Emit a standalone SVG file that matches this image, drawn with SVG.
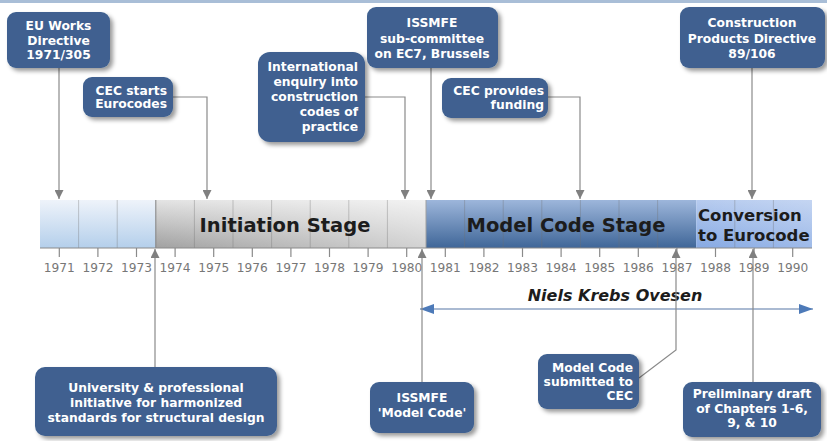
<svg xmlns="http://www.w3.org/2000/svg" width="827" height="441" viewBox="0 0 827 441">
  <defs>
    <style>
      .box { fill: #3f6190; }
      .bt { font-family: "DejaVu Sans", Verdana, sans-serif; font-weight: bold; font-size: 12.3px; fill: #ffffff; }
      .mid { text-anchor: middle; }
      .end { text-anchor: end; }
      .conn { fill: none; stroke: #8a8a8a; stroke-width: 1.2; marker-end: url(#arr); }
      .yr { font-family: "DejaVu Sans", Verdana, sans-serif; font-size: 12.2px; fill: #777777; text-anchor: middle; }
      .tick { stroke: #8a8a8a; stroke-width: 1.2; }
      .div { stroke: #707070; stroke-opacity: 0.35; stroke-width: 1; }
      .stage { font-family: "DejaVu Sans", Verdana, sans-serif; font-weight: bold; fill: #1c1c1c; }
    </style>
    <filter id="shadow" x="-10%" y="-10%" width="130%" height="140%">
      <feDropShadow dx="3" dy="3" stdDeviation="2.2" flood-color="#000000" flood-opacity="0.4"/>
    </filter>
    <marker id="arr" viewBox="0 0 10 10" refX="10" refY="5" markerWidth="9" markerHeight="9" markerUnits="userSpaceOnUse" orient="auto">
      <path d="M0,0 L10,5 L0,10 z" fill="#808080"/>
    </marker>
    <marker id="barr" viewBox="0 0 14 10" refX="14" refY="5" markerWidth="14" markerHeight="10" markerUnits="userSpaceOnUse" orient="auto-start-reverse">
      <path d="M0,0 L14,5 L0,10 z" fill="#4d7ab8"/>
    </marker>
    <linearGradient id="gLight" x1="0" y1="0" x2="0" y2="1">
      <stop offset="0" stop-color="#eef3fa"/>
      <stop offset="1" stop-color="#b4cfeb"/>
    </linearGradient>
    <linearGradient id="gGray" x1="0" y1="0" x2="0" y2="1">
      <stop offset="0" stop-color="#e2e2e2"/>
      <stop offset="1" stop-color="#9c9c9c"/>
    </linearGradient>
    <linearGradient id="gGrayH" x1="0" y1="0" x2="1" y2="0">
      <stop offset="0" stop-color="#ffffff" stop-opacity="0.05"/>
      <stop offset="1" stop-color="#ffffff" stop-opacity="0.55"/>
    </linearGradient>
    <linearGradient id="gModel" x1="0" y1="0" x2="0" y2="1">
      <stop offset="0" stop-color="#9db6db"/>
      <stop offset="1" stop-color="#3f6698"/>
    </linearGradient>
    <linearGradient id="gConv" x1="0" y1="0" x2="0" y2="1">
      <stop offset="0" stop-color="#b6cbef"/>
      <stop offset="1" stop-color="#86a9e3"/>
    </linearGradient>
    <linearGradient id="gConvH" x1="0" y1="0" x2="1" y2="0">
      <stop offset="0" stop-color="#ffffff" stop-opacity="0"/>
      <stop offset="1" stop-color="#ffffff" stop-opacity="0.2"/>
    </linearGradient>
  </defs>

  <rect x="0" y="0" width="827" height="441" fill="#ffffff"/>
  <rect x="0" y="0" width="827" height="3" fill="#a9bed7"/>

  <!-- timeline bar -->
  <g id="timeline">
    <rect x="40" y="200" width="115.8" height="48" fill="url(#gLight)"/>
    <rect x="155.8" y="200" width="270.2" height="48" fill="url(#gGray)"/>
    <rect x="155.8" y="200" width="270.2" height="48" fill="url(#gGrayH)"/>
    <rect x="426" y="200" width="270.2" height="48" fill="url(#gModel)"/>
    <rect x="696.2" y="200" width="115.8" height="48" fill="url(#gConv)"/>
    <rect x="696.2" y="200" width="115.8" height="48" fill="url(#gConvH)"/>
    <g class="div">
      <line x1="78.6" y1="200" x2="78.6" y2="248"/>
      <line x1="117.2" y1="200" x2="117.2" y2="248"/>
      <line x1="194.4" y1="200" x2="194.4" y2="248"/>
      <line x1="233" y1="200" x2="233" y2="248"/>
      <line x1="271.6" y1="200" x2="271.6" y2="248"/>
      <line x1="310.2" y1="200" x2="310.2" y2="248"/>
      <line x1="348.8" y1="200" x2="348.8" y2="248"/>
      <line x1="387.4" y1="200" x2="387.4" y2="248"/>
      <line x1="464.6" y1="200" x2="464.6" y2="248"/>
      <line x1="503.2" y1="200" x2="503.2" y2="248"/>
      <line x1="541.8" y1="200" x2="541.8" y2="248"/>
      <line x1="580.4" y1="200" x2="580.4" y2="248"/>
      <line x1="619" y1="200" x2="619" y2="248"/>
      <line x1="657.6" y1="200" x2="657.6" y2="248"/>
      <line x1="734.8" y1="200" x2="734.8" y2="248"/>
      <line x1="773.4" y1="200" x2="773.4" y2="248"/>
    </g>
    <line x1="155.8" y1="200" x2="155.8" y2="248" stroke="#808080" stroke-width="1"/>
    <line x1="426" y1="200" x2="426" y2="248" stroke="#a0a0a0" stroke-width="1"/>
    <line x1="40" y1="248" x2="812" y2="248" stroke="#8a8a8a" stroke-width="1"/>

    <g class="tick">
      <line x1="59.3" y1="248" x2="59.3" y2="257"/>
      <line x1="97.9" y1="248" x2="97.9" y2="257"/>
      <line x1="136.5" y1="248" x2="136.5" y2="257"/>
      <line x1="175.1" y1="248" x2="175.1" y2="257"/>
      <line x1="213.7" y1="248" x2="213.7" y2="257"/>
      <line x1="252.3" y1="248" x2="252.3" y2="257"/>
      <line x1="290.9" y1="248" x2="290.9" y2="257"/>
      <line x1="329.5" y1="248" x2="329.5" y2="257"/>
      <line x1="368.1" y1="248" x2="368.1" y2="257"/>
      <line x1="406.7" y1="248" x2="406.7" y2="257"/>
      <line x1="445.3" y1="248" x2="445.3" y2="257"/>
      <line x1="483.9" y1="248" x2="483.9" y2="257"/>
      <line x1="522.5" y1="248" x2="522.5" y2="257"/>
      <line x1="561.1" y1="248" x2="561.1" y2="257"/>
      <line x1="599.7" y1="248" x2="599.7" y2="257"/>
      <line x1="638.3" y1="248" x2="638.3" y2="257"/>
      <line x1="676.9" y1="248" x2="676.9" y2="257"/>
      <line x1="715.5" y1="248" x2="715.5" y2="257"/>
      <line x1="754.1" y1="248" x2="754.1" y2="257"/>
      <line x1="792.7" y1="248" x2="792.7" y2="257"/>
    </g>
    <g class="yr">
      <text x="59.3" y="272">1971</text>
      <text x="97.9" y="272">1972</text>
      <text x="136.5" y="272">1973</text>
      <text x="175.1" y="272">1974</text>
      <text x="213.7" y="272">1975</text>
      <text x="252.3" y="272">1976</text>
      <text x="290.9" y="272">1977</text>
      <text x="329.5" y="272">1978</text>
      <text x="368.1" y="272">1979</text>
      <text x="406.7" y="272">1980</text>
      <text x="445.3" y="272">1981</text>
      <text x="483.9" y="272">1982</text>
      <text x="522.5" y="272">1983</text>
      <text x="561.1" y="272">1984</text>
      <text x="599.7" y="272">1985</text>
      <text x="638.3" y="272">1986</text>
      <text x="676.9" y="272">1987</text>
      <text x="715.5" y="272">1988</text>
      <text x="754.1" y="272">1989</text>
      <text x="792.7" y="272">1990</text>
    </g>

    <text class="stage" x="285" y="232" font-size="19.5" text-anchor="middle">Initiation Stage</text>
    <text class="stage" x="566" y="232" font-size="19.5" text-anchor="middle">Model Code Stage</text>
    <text class="stage" x="698" y="221" font-size="16.5">Conversion</text>
    <text class="stage" x="698" y="241" font-size="16.5">to Eurocode</text>
  </g>

  <!-- Niels Krebs Ovesen span -->
  <g id="span">
    <text x="615" y="301" font-family="DejaVu Sans, Verdana, sans-serif" font-weight="bold" font-style="italic" font-size="16" fill="#1c1c1c" text-anchor="middle">Niels Krebs Ovesen</text>
    <line x1="420" y1="309" x2="813" y2="309" stroke="#8ea3c3" stroke-width="1.5" marker-start="url(#barr)" marker-end="url(#barr)"/>
  </g>

  <!-- connectors -->
  <g id="connectors">
    <path class="conn" d="M59,68 V199"/>
    <path class="conn" d="M173,97 H207 V199"/>
    <path class="conn" d="M365,97 H405 V199"/>
    <path class="conn" d="M431,68 V199"/>
    <path class="conn" d="M548,97 H580 V199"/>
    <path class="conn" d="M752,68 V199"/>
    <path class="conn" d="M155,367 V249"/>
    <path class="conn" d="M422,382 V249"/>
    <path class="conn" d="M639,378 L676,350 V249"/>
    <path class="conn" d="M753,382 V249"/>
  </g>

  <!-- event boxes -->
  <g id="eu-works">
    <rect class="box" x="7" y="12" width="103" height="56" rx="9" filter="url(#shadow)"/>
    <text class="bt mid" x="58.5" y="30">EU Works</text>
    <text class="bt mid" x="58.5" y="44.5">Directive</text>
    <text class="bt mid" x="58.5" y="59">1971/305</text>
  </g>
  <g id="cec-starts">
    <rect class="box" x="83" y="77" width="90" height="40" rx="9" filter="url(#shadow)"/>
    <text class="bt end" x="167" y="94.5">CEC starts</text>
    <text class="bt end" x="167" y="108">Eurocodes</text>
  </g>
  <g id="intl-enquiry">
    <rect class="box" x="258" y="52" width="107" height="90" rx="12" filter="url(#shadow)"/>
    <text class="bt end" x="358" y="70.5">International</text>
    <text class="bt end" x="358" y="85.5">enquiry into</text>
    <text class="bt end" x="358" y="100.5">construction</text>
    <text class="bt end" x="358" y="115.5">codes of</text>
    <text class="bt end" x="358" y="130.5">practice</text>
  </g>
  <g id="issmfe-sub">
    <rect class="box" x="367" y="7" width="131" height="61" rx="9" filter="url(#shadow)"/>
    <text class="bt mid" x="432" y="27">ISSMFE</text>
    <text class="bt mid" x="432" y="42.5">sub-committee</text>
    <text class="bt mid" x="432" y="58">on EC7, Brussels</text>
  </g>
  <g id="cec-funding">
    <rect class="box" x="442" y="78" width="106" height="40" rx="9" filter="url(#shadow)"/>
    <text class="bt end" x="544" y="95">CEC provides</text>
    <text class="bt end" x="544" y="108.5">funding</text>
  </g>
  <g id="cpd">
    <rect class="box" x="680" y="7" width="145" height="61" rx="9" filter="url(#shadow)"/>
    <text class="bt mid" x="752" y="27">Construction</text>
    <text class="bt mid" x="752" y="42.5">Products Directive</text>
    <text class="bt mid" x="752" y="58">89/106</text>
  </g>
  <g id="university">
    <rect class="box" x="35" y="367" width="242" height="69" rx="10" filter="url(#shadow)"/>
    <text class="bt mid" x="156" y="392">University &amp; professional</text>
    <text class="bt mid" x="156" y="407">initiative for harmonized</text>
    <text class="bt mid" x="156" y="422">standards for structural design</text>
  </g>
  <g id="issmfe-model">
    <rect class="box" x="370" y="382" width="104" height="51" rx="9" filter="url(#shadow)"/>
    <text class="bt mid" x="422" y="402">ISSMFE</text>
    <text class="bt mid" x="422" y="417">'Model Code'</text>
  </g>
  <g id="model-submitted">
    <rect class="box" x="538" y="354" width="101" height="55" rx="9" filter="url(#shadow)"/>
    <text class="bt end" x="633" y="372">Model Code</text>
    <text class="bt end" x="633" y="386">submitted to</text>
    <text class="bt end" x="633" y="400">CEC</text>
  </g>
  <g id="prelim-draft">
    <rect class="box" x="683" y="382" width="138" height="55" rx="9" filter="url(#shadow)"/>
    <text class="bt mid" x="752" y="398">Preliminary draft</text>
    <text class="bt mid" x="752" y="412.5">of Chapters 1-6,</text>
    <text class="bt mid" x="752" y="427">9, &amp; 10</text>
  </g>
</svg>
